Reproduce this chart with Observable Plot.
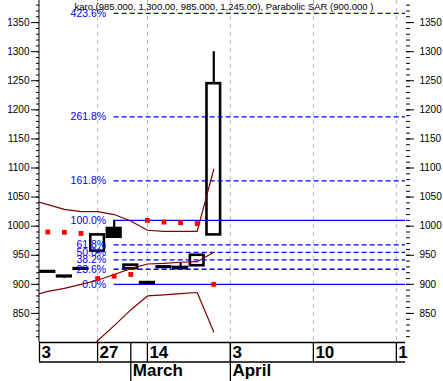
<!DOCTYPE html>
<html><head><meta charset="utf-8">
<script src="https://cdn.jsdelivr.net/npm/d3@7"></script>
<script src="https://cdn.jsdelivr.net/npm/@observablehq/plot@0.6"></script>
<style>body{margin:0;background:#fff;} svg{display:block}</style>
</head><body><div id="chart"></div>
<script>
// Candles (trading-day index)
const days   = [0, 1, 2, 3, 4, 5, 6, 7, 8, 9, 10];
const openP  = [922, 914, 926, 957, 996, 927, 903, 930, 929, 932, 985];
const highP  = [922, 914, 928, 985, 1010, 934, 903, 930, 937, 950, 1300];
const lowP   = [920, 910, 925, 952, 981, 926, 900, 928, 926, 931, 985];
const closeP = [921, 913, 927, 985, 981, 933, 901, 929, 927, 950, 1245];

// Parabolic SAR
const sarValues = [990, 989.5, 987.5, 910, 914, 917, 1010, 1007, 1006, 1004.5, 900];

// Bollinger bands
const bandDays  = [-1, 0, 1, 2, 3, 4, 5, 6, 7, 8, 9, 10];
const bandUpper = [1045, 1037, 1029, 1025, 1025, 1020, 1009, 993, 991, 991, 991, 1098];
const bandMid   = [880, 888, 893, 900, 907, 917, 927, 935, 936, 938, 939, 955];
const bandLower = [715, 739, 757, 775, 803, 829, 856, 880, 882, 884, 886, 818];

// Fibonacci retracement
const fibLow = 900, fibHigh = 1010, fibStart = 4;
const fibLevels = [0, 23.6, 38.2, 50, 61.8, 100, 161.8, 261.8, 423.6];
const fibSolid = [0, 100];

// Axes
const xDomain = [-0.5, 21.55];
const yDomain = [800, 1388];
const gridDays = [3, 6, 11, 16, 21];
const rowOneTicks = [-0.5, 3, 6, 11, 16, 21];
const rowOneLabels = ["3", "27", "14", "3", "10", "1"];
const monthTicks = [5, 11];
const monthLabels = ["March", "April"];
const majorTicks = [850, 900, 950, 1000, 1050, 1100, 1150, 1200, 1250, 1300, 1350];
const minorTicks = d3.range(810, 1390, 10);
const title = "karo (985.000, 1,300.00, 985.000, 1,245.00), Parabolic SAR (900.000 )";

const candles = days.map((d, i) => ({day: d, open: openP[i], high: highP[i], low: lowP[i], close: closeP[i]}));
const up = candles.filter(c => c.close >= c.open);
const down = candles.filter(c => c.close < c.open);
const sarRows = days.map((d, i) => ({day: d, sar: sarValues[i]}));
const bandRows = bandDays.map((d, i) => ({day: d, upper: bandUpper[i], mid: bandMid[i], lower: bandLower[i]}));
const fibRows = fibLevels.map(p => ({pct: p, value: fibLow + (fibHigh - fibLow) * p / 100, label: p.toFixed(1) + "%"}));
const half = 0.41;
const blank = () => "";

const chart = Plot.plot({
  width: 443, height: 381,
  marginLeft: 39, marginRight: 38, marginTop: 0, marginBottom: 39,
  style: {fontFamily: "'Liberation Sans', Arial, sans-serif", fontSize: "10px", background: "white", color: "black"},
  x: {domain: xDomain, axis: null, label: null},
  y: {domain: yDomain, axis: null, label: null},
  marks: [
    Plot.ruleX(gridDays, {stroke: "#b8b8b8", strokeDasharray: "4,4"}),
    Plot.ruleX(candles, {x: "day", y1: "low", y2: "high", stroke: "black", strokeWidth: 2.2}),
    Plot.rect(up, {x1: d => d.day - half, x2: d => d.day + half, y1: "open", y2: "close", fill: "white", stroke: "black", strokeWidth: 2.6}),
    Plot.rect(down, {x1: d => d.day - half, x2: d => d.day + half, y1: "open", y2: "close", fill: "black", stroke: "black", strokeWidth: 2.6}),
    Plot.ruleY(fibRows.filter(f => fibSolid.includes(f.pct)), {y: "value", x1: () => fibStart, x2: () => xDomain[1], stroke: "blue", strokeWidth: 1.3}),
    Plot.ruleY(fibRows.filter(f => !fibSolid.includes(f.pct)), {y: "value", x1: () => fibStart, x2: () => xDomain[1], stroke: "blue", strokeDasharray: "5,3", strokeWidth: 1.3}),
    Plot.text(fibRows, {x: () => fibStart, y: "value", text: "label", textAnchor: "end", dx: -8, fill: "blue", fontSize: 10.5}),
    Plot.line(bandRows, {x: "day", y: "upper", stroke: "#800000", strokeWidth: 1.2, clip: true}),
    Plot.line(bandRows, {x: "day", y: "mid", stroke: "#800000", strokeWidth: 1.2, clip: true}),
    Plot.line(bandRows, {x: "day", y: "lower", stroke: "#800000", strokeWidth: 1.2, clip: true}),
    Plot.dot(sarRows, {x: "day", y: "sar", fill: "red", r: 2.7, symbol: "square"}),
    Plot.text([title], {frameAnchor: "top-left", text: d => d, dx: 35, dy: 3, textAnchor: "start", lineAnchor: "top", fontSize: 9.5}),
    // left axis
    Plot.ruleX([xDomain[0]], {stroke: "black", dx: -0.5}),
    Plot.axisY({anchor: "left", label: null, ticks: majorTicks, tickSize: 8, tickPadding: 2, tickFormat: d => String(d), fontSize: 10}),
    Plot.axisY({anchor: "left", label: null, ticks: minorTicks, tickSize: 3, tickFormat: blank}),
    // right axis
    Plot.axisY({anchor: "right", label: null, ticks: majorTicks, tickSize: 8, tickPadding: 6, tickFormat: d => String(d), fontSize: 10}),
    Plot.axisY({anchor: "right", label: null, ticks: minorTicks, tickSize: 4, tickFormat: blank}),
    // bottom axis rows
    Plot.ruleY([yDomain[0]], {stroke: "black", strokeWidth: 1.5}),
    Plot.ruleY([yDomain[0]], {stroke: "black", strokeWidth: 1.5, dy: 19.5}),
    Plot.axisX({anchor: "bottom", label: null, ticks: rowOneTicks, tickSize: 19.5, tickFormat: blank, strokeWidth: 1.3}),
    Plot.axisX({anchor: "bottom", label: null, ticks: rowOneTicks, tickFormat: d => rowOneLabels[rowOneTicks.indexOf(d)], tickSize: 0, tickPadding: 3, textAnchor: "start", dx: 2, fontSize: 17, fontWeight: "bold"}),
    Plot.axisX({anchor: "bottom", label: null, ticks: monthTicks, tickSize: 39, tickFormat: blank, strokeWidth: 1.3}),
    Plot.axisX({anchor: "bottom", label: null, ticks: monthTicks, tickFormat: d => monthLabels[monthTicks.indexOf(d)], tickSize: 0, tickPadding: 21.5, textAnchor: "start", dx: 2, fontSize: 17, fontWeight: "bold"})
  ]
});
document.getElementById("chart").appendChild(chart);
</script></body></html>
